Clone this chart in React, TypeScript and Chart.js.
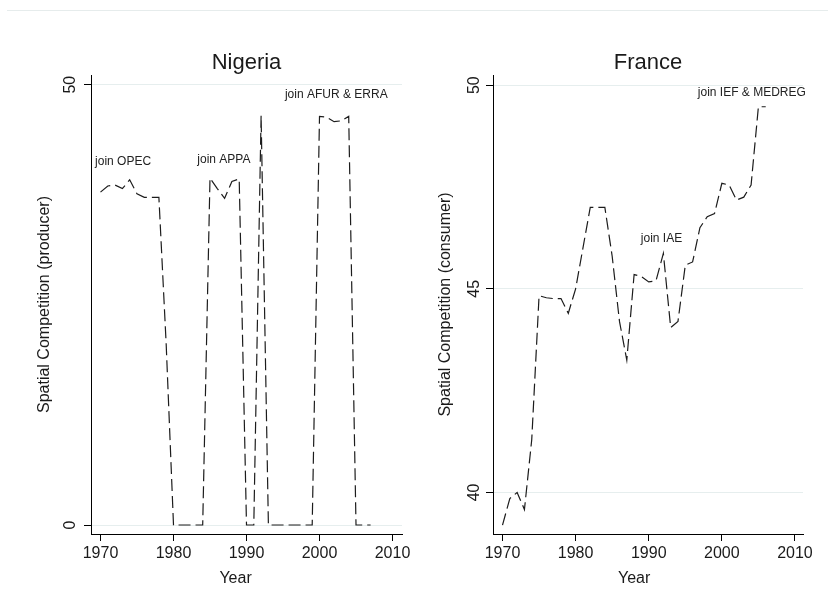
import React, { useEffect, useRef } from "react";
import { Chart, registerables } from "chart.js";

Chart.register(...registerables);

// ---------- data ----------
const NIGERIA_YEARS = [
  1970, 1971, 1972, 1973, 1974, 1975, 1976, 1977, 1978, 1979,
  1980, 1981, 1982, 1983, 1984, 1985, 1986, 1987, 1988, 1989,
  1990, 1991, 1992, 1993, 1994, 1995, 1996, 1997, 1998, 1999,
  2000, 2001, 2002, 2003, 2004, 2005, 2006, 2007,
];
const NIGERIA_VALUES = [
  37.8, 38.5, 38.6, 38.2, 39.2, 37.6, 37.2, 37.2, 37.2, 20.5,
  0, 0, 0, 0, 0, 39.4, 38.2, 37.1, 39.0, 39.3,
  0, 0, 46.5, 0, 0, 0, 0, 0, 0, 0,
  46.4, 46.3, 45.8, 45.9, 46.4, 0, 0, 0,
];

const FRANCE_YEARS = [
  1970, 1971, 1972, 1973, 1974, 1975, 1976, 1977, 1978, 1979,
  1980, 1981, 1982, 1983, 1984, 1985, 1986, 1987, 1988, 1989,
  1990, 1991, 1992, 1993, 1994, 1995, 1996, 1997, 1998, 1999,
  2000, 2001, 2002, 2003, 2004, 2005, 2006,
];
const FRANCE_VALUES = [
  39.2, 39.85, 40.0, 39.58, 41.3, 44.83, 44.78, 44.76, 44.76, 44.4,
  45.0, 46.0, 47.0, 47.0, 47.0, 45.8, 44.2, 43.25, 45.35, 45.3,
  45.17, 45.2, 45.87, 44.05, 44.2, 45.58, 45.66, 46.5, 46.77, 46.85,
  47.59, 47.55, 47.18, 47.25, 47.55, 49.47, 49.47,
];

const X_TICKS = [1970, 1980, 1990, 2000, 2010];
const NIGERIA_Y_TICKS = [0, 50];
const FRANCE_Y_TICKS = [40, 45, 50];

const NIGERIA_NOTES = ["join OPEC", "join APPA", "join AFUR & ERRA"];
const NIGERIA_NOTE_X = [1973.1, 1986.9, 2002.3];
const NIGERIA_NOTE_Y = [40.9, 41.1, 48.5];

const FRANCE_NOTES = ["join IAE", "join IEF & MEDREG"];
const FRANCE_NOTE_X = [1991.75, 2004.1];
const FRANCE_NOTE_Y = [46.16, 49.74];

// ---------- styling ----------
const FONT = "'Liberation Sans', Arial, Helvetica, sans-serif";
const TEXT = "#1a1a1a";

type PanelProps = {
  title: string;
  years: number[];
  values: number[];
  yTicks: number[];
  yMin: number;
  yMax: number;
  xMin: number;
  xMax: number;
  yTitle: string;
  notes: string[];
  noteX: number[];
  noteY: number[];
  yAxisWidth: number;
  padRight: number;
  yTitlePad: number;
  yTickPad: number;
};

function Panel(p: PanelProps) {
  const ref = useRef<HTMLCanvasElement | null>(null);

  useEffect(() => {
    if (!ref.current) return;
    const textPlugin = {
      id: "panelText",
      afterDraw(chart: any) {
        const { ctx, chartArea, scales } = chart;
        const xs = scales.x;
        const ys = scales.y;
        ctx.save();
        ctx.fillStyle = TEXT;
        // title
        ctx.font = `22px ${FONT}`;
        ctx.textAlign = "center";
        ctx.textBaseline = "alphabetic";
        ctx.fillText(p.title, (chartArea.left + chartArea.right) / 2, 69);
        // x axis title
        ctx.font = `16px ${FONT}`;
        const mid = (p.years[0] + p.years[p.years.length - 1]) / 2;
        ctx.fillText("Year", xs.getPixelForValue(mid), chartArea.bottom + 49);
        // notes
        ctx.font = `12px ${FONT}`;
        ctx.fillStyle = "#222";
        for (let i = 0; i < p.notes.length; i++) {
          ctx.fillText(
            p.notes[i],
            xs.getPixelForValue(p.noteX[i]),
            ys.getPixelForValue(p.noteY[i])
          );
        }
        ctx.restore();
      },
    };

    const chart = new Chart(ref.current, {
      type: "line",
      data: {
        datasets: [
          {
            data: p.years.map((y, i) => ({ x: y, y: p.values[i] })),
            borderColor: "#1c1c1c",
            borderWidth: 1.2,
            borderDash: [12, 5],
            pointRadius: 0,
            tension: 0,
            fill: false,
          },
        ],
      },
      options: {
        animation: false,
        responsive: false,
        devicePixelRatio: 1,
        layout: { padding: { left: 0, right: p.padRight, top: 75, bottom: 0 } },
        plugins: {
          legend: { display: false },
          title: { display: false },
          tooltip: { enabled: false },
        },
        scales: {
          x: {
            type: "linear",
            min: p.xMin,
            max: p.xMax,
            afterBuildTicks: (s: any) => {
              s.ticks = X_TICKS.map((v) => ({ value: v }));
            },
            afterFit: (s: any) => {
              s.height = 80;
            },
            grid: {
              display: true,
              drawOnChartArea: false,
              drawTicks: true,
              tickLength: 7,
              tickColor: "#000",
              tickWidth: 1,
            },
            border: { display: true, color: "#000", width: 1 },
            ticks: {
              color: TEXT,
              font: { family: FONT, size: 16 },
              padding: 3,
              maxRotation: 0,
              minRotation: 0,
              autoSkip: false,
              callback: (v: any) => String(v),
            },
          },
          y: {
            type: "linear",
            min: p.yMin,
            max: p.yMax,
            afterBuildTicks: (s: any) => {
              s.ticks = p.yTicks.map((v) => ({ value: v }));
            },
            afterFit: (s: any) => {
              s.width = p.yAxisWidth;
            },
            grid: {
              display: true,
              drawOnChartArea: true,
              drawTicks: true,
              tickLength: 7,
              color: "#e6eeee",
              lineWidth: 1,
              tickColor: "#000",
              tickWidth: 1,
            },
            border: { display: true, color: "#000", width: 1 },
            ticks: {
              color: TEXT,
              font: { family: FONT, size: 16 },
              padding: p.yTickPad,
              minRotation: 90,
              maxRotation: 90,
              crossAlign: "center",
              autoSkip: false,
              callback: (v: any) => String(v),
            },
            title: {
              display: true,
              text: p.yTitle,
              color: TEXT,
              font: { family: FONT, size: 16 },
              padding: { top: p.yTitlePad, bottom: 0 },
            },
          },
        },
      },
      plugins: [textPlugin],
    } as any);
    return () => chart.destroy();
  }, []);

  return <canvas ref={ref} width={414} height={614} style={{ width: 414, height: 614, display: "block" }} />;
}

export default function App() {
  return (
    <div
      style={{
        position: "fixed",
        left: 0,
        top: 0,
        width: 828,
        height: 614,
        background: "#fff",
        overflow: "hidden",
      }}
    >
      <div
        style={{
          position: "absolute",
          left: 7,
          right: 0,
          top: 10,
          height: 1,
          background: "#e6ecec",
        }}
      />
      <div style={{ position: "absolute", left: 0, top: 0 }}>
        <Panel
          title="Nigeria"
          years={NIGERIA_YEARS}
          values={NIGERIA_VALUES}
          yTicks={NIGERIA_Y_TICKS}
          yMin={-1.02}
          yMax={51.1}
          xMin={1968.7}
          xMax={2011.3}
          yTitle="Spatial Competition (producer)"
          notes={NIGERIA_NOTES}
          noteX={NIGERIA_NOTE_X}
          noteY={NIGERIA_NOTE_Y}
          yAxisWidth={91}
          padRight={12}
          yTitlePad={34.6}
          yTickPad={4.3}
        />
      </div>
      <div style={{ position: "absolute", left: 414, top: 0 }}>
        <Panel
          title="France"
          years={FRANCE_YEARS}
          values={FRANCE_VALUES}
          yTicks={FRANCE_Y_TICKS}
          yMin={38.98}
          yMax={50.25}
          xMin={1968.7}
          xMax={2011.1}
          yTitle="Spatial Competition (consumer)"
          notes={FRANCE_NOTES}
          noteX={FRANCE_NOTE_X}
          noteY={FRANCE_NOTE_Y}
          yAxisWidth={79}
          padRight={25}
          yTitlePad={21.5}
          yTickPad={2.6}
        />
      </div>
    </div>
  );
}
